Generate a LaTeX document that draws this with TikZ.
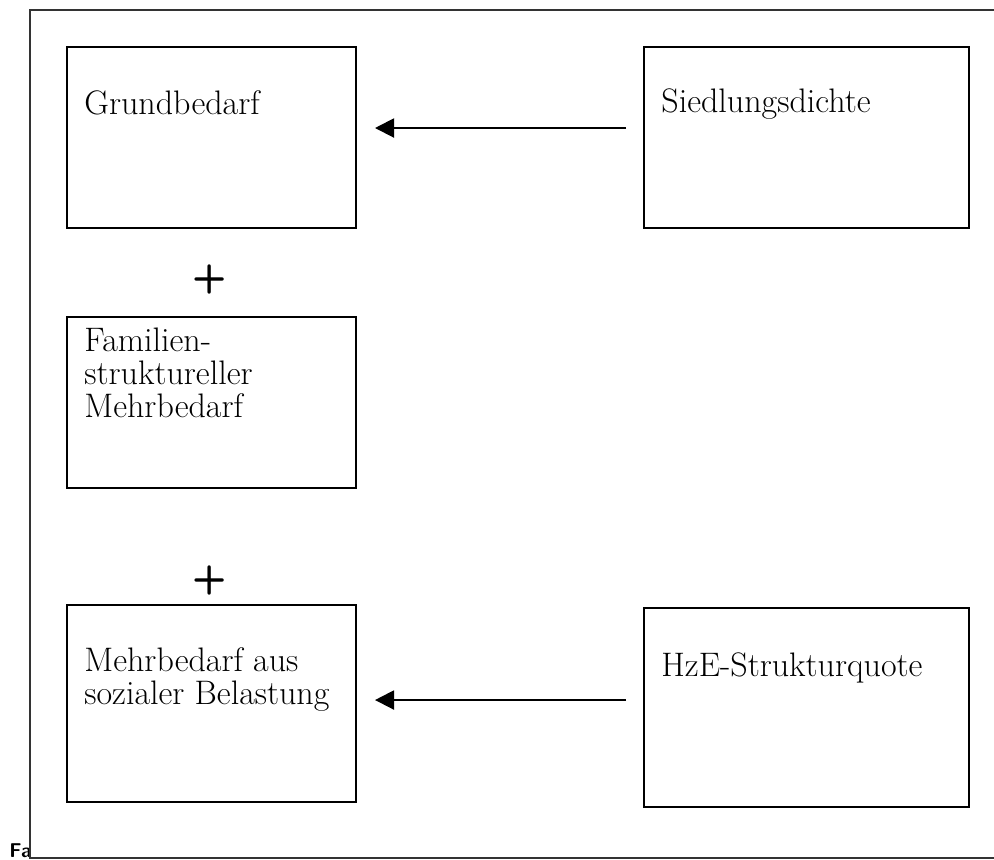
\documentclass[tikz,border=0pt]{standalone}
\usetikzlibrary{arrows.meta}

\tikzset{
  kasten/.style={draw, line width=1pt, inner sep=0pt},
  beschr/.style={anchor=base west, inner sep=0pt, align=left, font=\fontsize{17}{16.5}\selectfont},
  pfeil/.style={-{Triangle[length=9.5pt,width=9.5pt]}, line width=1pt},
  plus/.style={inner sep=0pt, font=\fontsize{20}{20}\selectfont\sffamily\bfseries},
}

\begin{document}
\begin{tikzpicture}[x=0.5pt,y=-0.5pt]
\useasboundingbox (0,0) rectangle (994,859);

% linke Spalte
\node[kasten, minimum width=144.5pt, minimum height=90.5pt] (grund) at (211.5,137.5) {};
\node[kasten, minimum width=144.5pt, minimum height=85.5pt] (fam) at (211.5,402.5) {};
\node[kasten, minimum width=144.5pt, minimum height=98.5pt] (mehr) at (211.5,703.5) {};
% rechte Spalte
\node[kasten, minimum width=162.5pt, minimum height=90.5pt] (sied) at (806.5,137.5) {};
\node[kasten, minimum width=162.5pt, minimum height=99.5pt] (hze) at (806.5,707.5) {};

% base = Grundlinie der letzten Zeile
\node[beschr] (grundtxt) at ([xshift=9pt,yshift=-34pt]grund.north west) {Grundbedarf};
\node[beschr] (famtxt) at ([xshift=9pt,yshift=-50.5pt]fam.north west) {Familien-\\struktureller\\Mehrbedarf};
\node[beschr] (mehrtxt) at ([xshift=9pt,yshift=-50pt]mehr.north west) {Mehrbedarf aus\\sozialer Belastung};
\node[beschr] (siedtxt) at ([xshift=9pt,yshift=-33pt]sied.north west) {Siedlungsdichte};
\node[beschr] (hzetxt) at ([xshift=9pt,yshift=-34.5pt]hze.north west) {HzE-Strukturquote};

\node[plus] (plus1) at (210,279) {+};
\node[plus] (plus2) at (210,580) {+};

\draw[pfeil, shorten <=8.5pt, shorten >=9pt] ([yshift=4.75pt]sied.west) -- ([yshift=4.75pt]sied.west -| grund.east);
\draw[pfeil, shorten <=8.5pt, shorten >=9pt] ([yshift=3.75pt]hze.west) -- ([yshift=3.75pt]hze.west -| mehr.east);

\node[anchor=base west, inner sep=0pt, font=\sffamily\bfseries\fontsize{10}{10}\selectfont] (fa) at (9,857) {Fa};

% Rahmen
\draw[line width=0.75pt, black!80] (994,10) -- (30,10) -- (30,858) -- (994,858);
\end{tikzpicture}
\end{document}
